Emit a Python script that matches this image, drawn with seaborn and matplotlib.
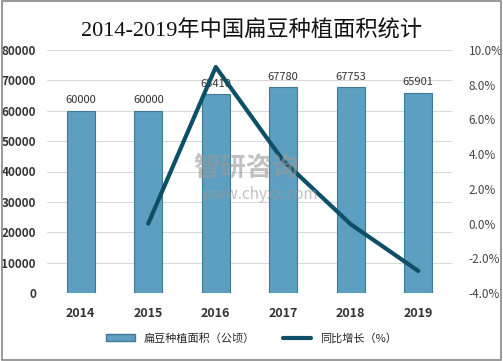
import matplotlib
matplotlib.use("Agg")
import matplotlib.pyplot as plt
import seaborn as sns
import pandas as pd
from matplotlib.patches import Rectangle
from matplotlib.lines import Line2D

years = ["2014", "2015", "2016", "2017", "2018", "2019"]
area = [60000, 60000, 65410, 67780, 67753, 65901]
growth_years = ["2015", "2016", "2017", "2018", "2019"]
growth = [0.0, 9.02, 3.62, -0.04, -2.73]
left_ticks = [0, 10000, 20000, 30000, 40000, 50000, 60000, 70000, 80000]
right_ticks = [-4, -2, 0, 2, 4, 6, 8, 10]

sns.set_theme(style="white")
plt.rcParams['font.family'] = ['Noto Sans CJK SC', 'DejaVu Sans']

fig = plt.figure(figsize=(5.03, 3.61), dpi=100)
fig.patch.set_facecolor("white")
fig.add_artist(Rectangle((0.004, 0.004), 0.992, 0.992, transform=fig.transFigure,
                         fill=False, edgecolor="#888888", linewidth=1.2))

ax = fig.add_axes([47/503, 1-293/361, 405/503, 243/361])
df = pd.DataFrame({"year": years, "area": area})
sns.barplot(data=df, x="year", y="area", ax=ax, color="#5d9fc0", width=0.42,
            edgecolor="#3f7a96", linewidth=0.8, saturation=1)
ax.set_ylim(0, 80000)
ax.set_yticks(left_ticks)
ax.set_yticklabels([str(t) for t in left_ticks], fontsize=8.5, color="#333333",
                   fontweight="bold")
ax.yaxis.grid(True, color="#d9d9d9", linewidth=0.8)
ax.set_axisbelow(True)
ax.set_xlabel("")
ax.set_ylabel("")
ax.set_xticks(range(len(years)))
ax.set_xticklabels(years, fontsize=9, fontweight="bold", color="#333333")
ax.tick_params(axis="both", length=0, pad=10)
ax.tick_params(axis="y", pad=8)
for s in ax.spines.values():
    s.set_visible(False)
for i, v in enumerate(area):
    ax.text(i, v + 1800, str(v), ha="center", va="bottom", fontsize=8, color="#333333")

ax2 = ax.twinx()
gdf = pd.DataFrame({"x": [years.index(y) for y in growth_years], "g": growth})
sns.lineplot(data=gdf, x="x", y="g", ax=ax2, color="#0d4f66", linewidth=3.0)
ax2.set_ylim(-4, 10)
ax2.set_yticks(right_ticks)
ax2.set_yticklabels([f"{t:.1f}%" for t in right_ticks], fontsize=8.5, color="#444444")
ax2.tick_params(axis="y", length=0, pad=12)
ax2.set_ylabel("")
ax2.set_xlabel("")
for s in ax2.spines.values():
    s.set_visible(False)
ax.set_xlim(-0.5, len(years) - 0.5)

fig.text(0.5, 0.915, "2014-2019年中国扁豆种植面积统计", ha="center", va="center",
         fontsize=16, color="#111111", family=['Liberation Serif', 'Noto Sans CJK SC'])

fig.text(0.385, 0.53, "智研咨询", ha="left", va="center", fontsize=19,
         color="#999999", alpha=0.6, fontweight="bold")
fig.text(0.40, 0.46, "www.chyxx.com", ha="left", va="center", fontsize=11,
         color="#999999", alpha=0.6)

handles = [Rectangle((0, 0), 1, 1, facecolor="#5d9fc0", edgecolor="#3f7a96"),
           Line2D([0], [0], color="#0d4f66", linewidth=3.0)]
fig.legend(handles, ["扁豆种植面积（公顷）", "同比增长（%）"], loc="center",
           bbox_to_anchor=(0.5, 0.063), ncol=2, frameon=False, fontsize=8,
           handlelength=2.6, handleheight=0.6, columnspacing=2.5)

fig.savefig("out.png", dpi=100, facecolor="white")
